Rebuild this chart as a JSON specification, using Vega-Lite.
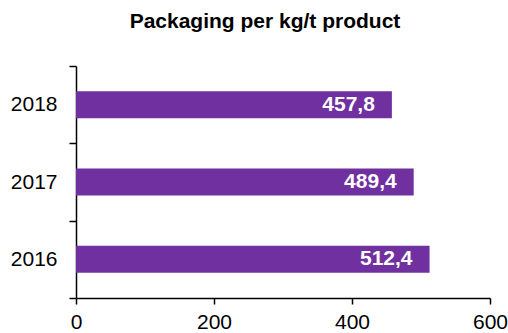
{
  "$schema": "https://vega.github.io/schema/vega-lite/v6.json",
  "width": 414,
  "height": 232,
  "autosize": {"type": "none"},
  "padding": {"left": 76, "top": 66, "right": 18, "bottom": 35},
  "background": "white",
  "title": {
    "text": "Packaging per kg/t product",
    "font": "Liberation Sans",
    "fontSize": 21,
    "fontWeight": "bold",
    "color": "black",
    "anchor": "middle",
    "frame": "group",
    "dx": -18,
    "offset": 23
  },
  "data": {
    "values": [
      {"year": "2018", "value": 457.8, "label": "457,8"},
      {"year": "2017", "value": 489.4, "label": "489,4"},
      {"year": "2016", "value": 512.4, "label": "512,4"}
    ]
  },
  "encoding": {
    "y": {
      "field": "year",
      "type": "nominal",
      "sort": "descending",
      "title": null,
      "scale": {"paddingInner": 0, "paddingOuter": 0},
      "axis": {
        "tickBand": "extent",
        "domainColor": "black",
        "domainWidth": 1.5,
        "tickColor": "black",
        "tickWidth": 1.5,
        "tickSize": 7,
        "labelPadding": 12,
        "labelFont": "Liberation Sans",
        "labelFontSize": 21,
        "labelColor": "black",
        "grid": false
      }
    }
  },
  "layer": [
    {
      "mark": {"type": "bar", "color": "#7030A0", "height": {"band": 0.35}},
      "encoding": {
        "x": {
          "field": "value",
          "type": "quantitative",
          "title": null,
          "scale": {"domain": [0, 600], "nice": false},
          "axis": {
            "values": [0, 200, 400, 600],
            "grid": false,
            "domainColor": "black",
            "domainWidth": 1.5,
            "tickColor": "black",
            "tickWidth": 1.5,
            "tickSize": 6,
            "labelPadding": 7,
            "labelFont": "Liberation Sans",
            "labelFontSize": 21,
            "labelColor": "black",
            "labelFlush": false
          }
        }
      }
    },
    {
      "mark": {
        "type": "text",
        "align": "right",
        "baseline": "middle",
        "dx": -17,
        "font": "Liberation Sans",
        "fontSize": 21,
        "fontWeight": "bold",
        "color": "white"
      },
      "encoding": {
        "x": {"field": "value", "type": "quantitative"},
        "text": {"field": "label"}
      }
    }
  ],
  "config": {"view": {"stroke": null}}
}
